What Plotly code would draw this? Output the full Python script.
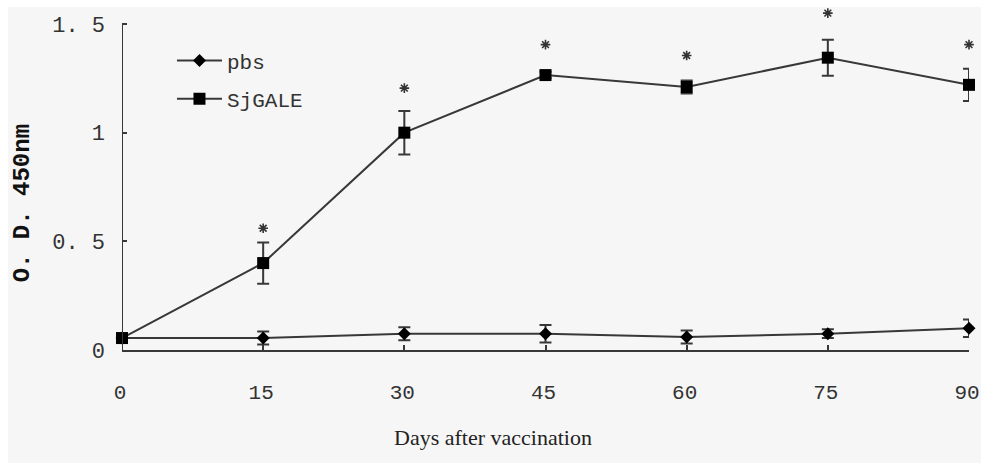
import plotly.graph_objects as go

days = [0, 15, 30, 45, 60, 75, 90]
pbs_mean = [0.055, 0.055, 0.075, 0.075, 0.06, 0.075, 0.10]
pbs_err = [0.01, 0.03, 0.03, 0.04, 0.03, 0.02, 0.04]
sj_mean = [0.055, 0.40, 1.00, 1.265, 1.21, 1.345, 1.22]
sj_err = [0.01, 0.095, 0.10, 0.015, 0.03, 0.083, 0.074]
star_days = [15, 30, 45, 60, 75, 90]
star_y = [0.56, 1.205, 1.405, 1.355, 1.55, 1.405]
ytick_vals = [0, 0.5, 1, 1.5]
ytick_text = ["0", "0. 5", "1", "1. 5"]
xtick_vals = [0, 15, 30, 45, 60, 75, 90]
y_axis_top = 1.5

LINE = "#383838"
BG = "#f6f6f6"
mono = "Liberation Mono, DejaVu Sans Mono, monospace"

fig = go.Figure()
fig.add_trace(go.Scatter(
    x=days, y=pbs_mean, name="pbs", mode="lines+markers", legendgroup="a",
    line=dict(color=LINE, width=2),
    marker=dict(symbol="diamond", size=10, color="black"),
    error_y=dict(type="data", array=pbs_err, color=LINE, thickness=2, width=6),
    cliponaxis=False,
))
fig.add_trace(go.Scatter(
    x=days, y=sj_mean, name="SjGALE", mode="lines+markers", legendgroup="b",
    line=dict(color=LINE, width=2),
    marker=dict(symbol="square", size=12, color="black"),
    error_y=dict(type="data", array=sj_err, color=LINE, thickness=2, width=6),
    cliponaxis=False,
))
fig.add_trace(go.Scatter(
    x=star_days, y=star_y, mode="markers", showlegend=False,
    marker=dict(symbol="asterisk-open", size=8, color="#333",
                line=dict(color="#333", width=1.6)),
    cliponaxis=False, hoverinfo="skip",
))

fig.update_layout(
    width=981, height=463,
    margin=dict(l=122, r=12, t=9, b=113, autoexpand=False),
    paper_bgcolor=BG, plot_bgcolor=BG,
    showlegend=True,
    legend=dict(x=0.059, y=0.908, xanchor="left", yanchor="top",
                font=dict(family=mono, size=21, color="#333"),
                bgcolor="rgba(0,0,0,0)", tracegroupgap=8, itemwidth=45),
    xaxis=dict(range=[0, 90], showgrid=False, zeroline=False, showline=True,
               linecolor=LINE, linewidth=2, ticks="inside", ticklen=5,
               tickcolor=LINE, tickwidth=2, tickvals=xtick_vals,
               tickfont=dict(family=mono, size=21, color="#333"),
               ticklabelstandoff=22, ticklabeloverflow="allow",
               ticklabelshift=-2, automargin=False),
    yaxis=dict(range=[0, 1.569], showgrid=False, zeroline=False, showline=False,
               ticks="inside", ticklen=5,
               tickcolor=LINE, tickwidth=2, tickvals=ytick_vals,
               ticktext=ytick_text,
               tickfont=dict(family=mono, size=22, color="#333"),
               ticklabelstandoff=16, automargin=False),
    annotations=[
        dict(text="Days after vaccination", xref="paper", yref="paper",
             x=0.438, y=0, yshift=-87, xanchor="center", yanchor="middle",
             showarrow=False,
             font=dict(family="Liberation Serif, Times New Roman, serif", size=22, color="#222")),
        dict(text="<b>O. D. 450nm</b>", xref="paper", yref="paper",
             x=0, xshift=-100, y=0.43, textangle=-90,
             xanchor="center", yanchor="middle", showarrow=False,
             font=dict(family=mono, size=24, color="#111")),
    ],
    shapes=[
        dict(type="rect", xref="paper", yref="paper", x0=-0.2, x1=1.1,
             y0=1.006, y1=1.2, fillcolor="white", line=dict(width=0), layer="below"),
        dict(type="rect", xref="paper", yref="paper", x0=-0.2, x1=-0.1346,
             y0=-0.5, y1=1.2, fillcolor="white", line=dict(width=0), layer="below"),
        dict(type="line", xref="x", yref="y", x0=0, x1=0, y0=0, y1=y_axis_top,
             line=dict(color=LINE, width=2), layer="above"),
    ],
)

fig.write_html("out.html")
